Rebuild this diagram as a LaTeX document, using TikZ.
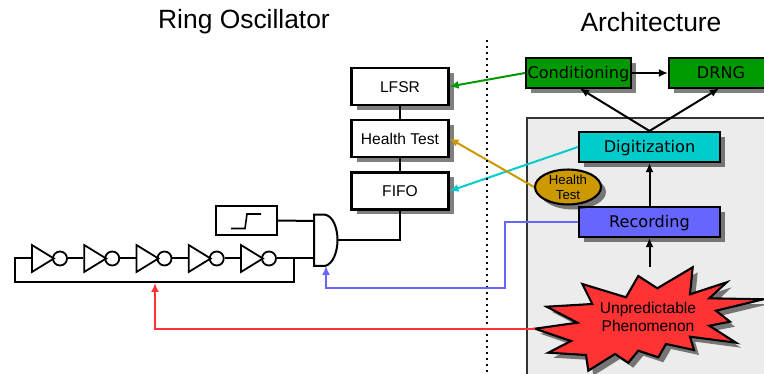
\documentclass[tikz,border=0pt]{standalone}
\usepackage{fontspec}
\setmainfont{Liberation Sans}
\newfontfamily\dejavu{DejaVu Sans}
\usetikzlibrary{arrows.meta,shadows,shapes.geometric}
\definecolor{grnbox}{HTML}{009900}
\definecolor{cyanbox}{HTML}{00CCCC}
\definecolor{bluebox}{HTML}{6666FF}
\definecolor{goldbox}{HTML}{CC9900}
\definecolor{redbox}{HTML}{FF3333}
\definecolor{panelgray}{HTML}{ECECEC}
\tikzset{
  shade4/.style={drop shadow={shadow xshift=5pt, shadow yshift=-5pt, opacity=0.5, fill=black}},
  title/.style={font=\fontsize{26.4}{30}\selectfont, inner sep=0pt},
  hw/.style={draw, line width=2.1pt, fill=white, shade4, minimum width=97pt, minimum height=37pt, inner sep=0pt, text height=11.5pt, text depth=0pt, font=\fontsize{15.6}{18}\selectfont},
  stage/.style={draw, line width=2.1pt, shade4, minimum height=30pt, inner sep=0pt, text height=14pt, text depth=2.5pt, font=\dejavu\fontsize{16.1}{18}\selectfont},
  wire/.style={line width=2pt, line join=miter},
  link/.style={line width=2pt, -{Latex[length=9pt, width=8pt]}},
  inv/.style={draw, line width=1.8pt, isosceles triangle, isosceles triangle stretches, minimum width=27pt, minimum height=22pt, inner sep=0pt, anchor=lower side},
  bub/.style={draw, line width=1.8pt, circle, minimum size=14pt, inner sep=0pt}
}
\begin{document}
\begin{tikzpicture}[x=1pt, y=-1pt]
\useasboundingbox (0,0) rectangle (764,374);
\clip (0,0) rectangle (764,374);
\node [title] (T1) at (244,22) {Ring Oscillator};
\node [title] (T2) at (651,22) {Architecture};

\draw [line width=1.5pt, draw=black!80, fill=panelgray] (527,118) rectangle (780,390);

\node [hw] (LFSR) at (400,86.5) {LFSR};
\node [hw] (HT) at (400,138.5) {Health Test};
\node [hw] (FIFO) at (400,191) {FIFO};
\draw [wire] (LFSR) -- (HT);
\draw [wire] (HT) -- (FIFO);

\node [stage, fill=grnbox, minimum width=105pt] (COND) at (578.5,73) {Conditioning};
\node [stage, fill=grnbox, minimum width=104pt] (DRNG) at (721,73) {DRNG};
\node [stage, fill=cyanbox, minimum width=141pt] (DIG) at (649.5,147) {Digitization};
\node [stage, fill=bluebox, minimum width=141pt] (REC) at (649.5,222) {Recording};
\node [draw, line width=2.1pt, ellipse, fill=goldbox, shade4, minimum width=66pt, minimum height=34pt, inner sep=0pt, align=center, font=\fontsize{13.2}{15}\selectfont] (HE) at (568,187) {Health\\Test};

\draw [line width=2.1pt, fill=redbox, shade4, line join=miter, miter limit=10]
  (535,328.7) -- (577.3,322.7) -- (546.7,306.7) -- (592.3,304) -- (582.3,284) -- (626,297.3)
  -- (638.3,276) -- (657.3,288.3) -- (692.7,267.3) -- (690,294.3) -- (726.7,282.3) -- (709.3,298.3)
  -- (763.3,299.3) -- (716,310.7) -- (730,321.7) -- (709.3,325.7) -- (736,342.7) -- (690,336.7)
  -- (694,350) -- (666,344) -- (658.3,357.3) -- (638.3,350.7) -- (628.3,362.7) -- (615,354)
  -- (588.3,370.7) -- (586,355) -- (548.3,352.7) -- (571,341) -- cycle;
\node [inner sep=0pt, align=center, font=\fontsize{15.6}{18}\selectfont] (UP) at (648,317) {Unpredictable\\Phenomenon};
\coordinate (burstL) at (535,329);
\coordinate (burstT) at (649.5,267);

\draw [link] (COND) -- (DRNG);
\coordinate (condIn) at (580,88.5);
\coordinate (drngIn) at (719,88.5);
\draw [link] (DIG.north) -- (condIn);
\draw [link] (DIG.north) -- (drngIn);
\draw [link] (REC) -- (DIG);
\draw [link] (burstT) -- (REC.south);

\draw [link, draw=grnbox, -{Latex[length=9pt, width=8pt, fill=grnbox]}] (COND.west) -- (LFSR.east);
\draw [link, draw=cyanbox] (DIG.west) -- (FIFO.east);
\draw [link, draw=goldbox] (HE.west) -- (HT.east);

\draw [line width=2.2pt, dash pattern=on 2.5pt off 3.5pt] (487,40) -- (487,374);

\foreach \i in {1,...,5} {
  \pgfmathsetmacro{\xpos}{31+52.25*(\i-1)}
  \node [inv] (I\i) at (\xpos,258.5) {};
  \node [bub] (C\i) at (\xpos+29,258.5) {};
}
\draw [wire] (C1) -- (I2.lower side);
\draw [wire] (C2) -- (I3.lower side);
\draw [wire] (C3) -- (I4.lower side);
\draw [wire] (C4) -- (I5.lower side);

\coordinate (gateA) at (314,221);
\coordinate (gateB) at (314,258.5);
\coordinate (gateO) at (337.5,240);
\coordinate (gateIn) at (326,266);
\coordinate (loopL) at (14.5,258.5);
\coordinate (loopBL) at (14.5,282);
\coordinate (loopBR) at (294,282);
\coordinate (loopR) at (294,258.5);
\coordinate (ringIn) at (155,283);
\coordinate (redCorner) at (155,329);
\coordinate (blueA) at (505,222);
\coordinate (blueB) at (505,288);
\coordinate (blueC) at (326,288);
\coordinate (fifoDown) at (400,240);

\draw [wire] (C5) -- (gateB);
\draw [wire] (I1.lower side) -- (loopL) -- (loopBL) -- (loopBR) -- (loopR);
\node [draw, line width=2pt, minimum width=61pt, minimum height=29pt, inner sep=0pt] (STEP) at (246.5,220.5) {};
\draw [line width=1.6pt] (231,228.5) -- (245,228.5) -- (247,214) -- (261,214);
\draw [wire] (STEP.east) -- (gateA);
\draw [wire, fill=white, line join=miter] (314,214.7) -- (325,214.7) .. controls (333,216) and (337.5,228) .. (gateO) .. controls (337.5,252) and (333,264) .. (325,266) -- (314,266) -- cycle;
\draw [wire] (gateO) -- (fifoDown) -- (FIFO.south);

\draw [link, line width=1.6pt, draw=bluebox, -{Latex[length=9pt, width=8pt]}] (REC.west) -- (blueA) -- (blueB) -- (blueC) -- (gateIn);
\draw [link, line width=1.6pt, draw=redbox] (burstL) -- (redCorner) -- (ringIn);
\end{tikzpicture}
\end{document}
